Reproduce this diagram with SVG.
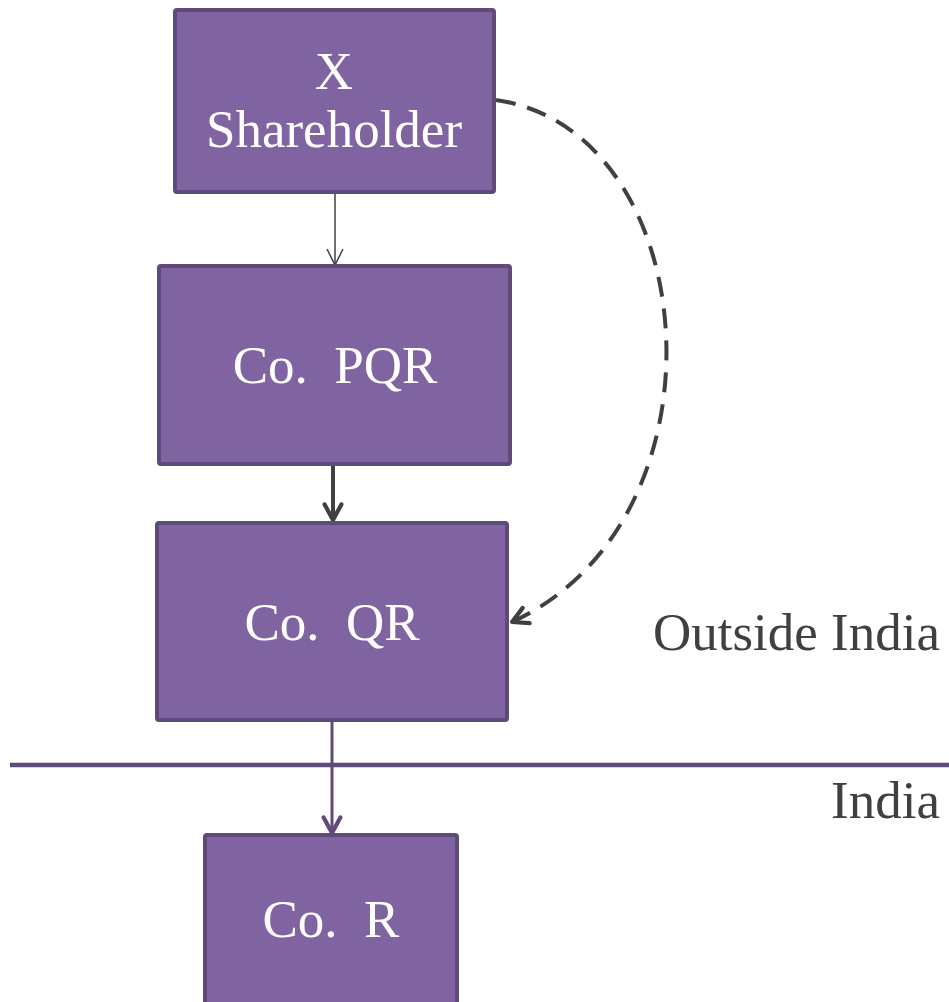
<svg xmlns="http://www.w3.org/2000/svg" width="949" height="1002" viewBox="0 0 949 1002">
<defs>
<style>
.box{fill:#8064A2;stroke:#5F4B7A;stroke-width:4}
.lbl{font-family:"Liberation Serif","Times New Roman",serif;font-size:53px;fill:#ffffff;text-anchor:middle}
.side{font-family:"Liberation Serif","Times New Roman",serif;font-size:53px;fill:#404040;text-anchor:end}
</style>
<marker id="vthin" viewBox="0 0 20 20" refX="18" refY="10" markerWidth="20" markerHeight="20" markerUnits="userSpaceOnUse" orient="auto"><path d="M2,2 L18,10 L2,18" fill="none" stroke="#404040" stroke-width="1.5"/></marker>
<marker id="vdark" viewBox="0 0 20 20" refX="17" refY="10" markerWidth="24" markerHeight="24" markerUnits="userSpaceOnUse" orient="auto"><path d="M4,3 L17,10 L4,17" fill="none" stroke="#404040" stroke-width="3.5" stroke-linecap="round" stroke-linejoin="round"/></marker>
<marker id="vpurple" viewBox="0 0 20 20" refX="17" refY="10" markerWidth="24" markerHeight="24" markerUnits="userSpaceOnUse" orient="auto"><path d="M4,3 L17,10 L4,17" fill="none" stroke="#5F4B7A" stroke-width="3.5" stroke-linecap="round" stroke-linejoin="round"/></marker>
</defs>
<rect width="949" height="1002" fill="#ffffff"/>
<line x1="10" y1="765" x2="949" y2="765" stroke="#5F4B7A" stroke-width="4.5"/>
<g id="connectors">
<line x1="335" y1="192" x2="335" y2="265" stroke="#404040" stroke-width="1.5" marker-end="url(#vthin)"/>
<line x1="333" y1="464" x2="333" y2="520" stroke="#404040" stroke-width="4" marker-end="url(#vdark)"/>
<line x1="332" y1="720" x2="332" y2="833" stroke="#5F4B7A" stroke-width="3" marker-end="url(#vpurple)"/>
<path d="M496,100 C705,130 735,520 512,622" fill="none" stroke="#404040" stroke-width="4" stroke-dasharray="20,12"/>
<path d="M496,100 C705,130 735,520 512,622" fill="none" stroke="none" marker-end="url(#vdark)"/>
</g>
<g id="node-x"><rect class="box" x="175" y="10" width="319" height="182" rx="2"/>
<text class="lbl" x="334" y="89">X</text><text class="lbl" x="334" y="147">Shareholder</text></g>
<g id="node-pqr"><rect class="box" x="159" y="266" width="351" height="198" rx="2"/>
<text class="lbl" x="335" y="383" xml:space="preserve">Co.  PQR</text></g>
<g id="node-qr"><rect class="box" x="157" y="523" width="350" height="197" rx="2"/>
<text class="lbl" x="332" y="640" xml:space="preserve">Co.  QR</text></g>
<g id="node-r"><rect class="box" x="205" y="835" width="252" height="180" rx="2"/>
<text class="lbl" x="331" y="937" xml:space="preserve">Co.  R</text></g>
<text class="side" x="940" y="650">Outside India</text>
<text class="side" x="940" y="818">India</text>
</svg>
